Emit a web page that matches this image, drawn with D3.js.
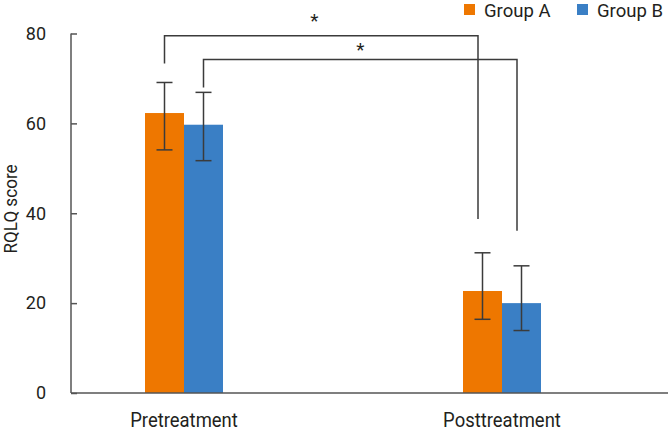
<!DOCTYPE html>
<html>
<head>
<meta charset="utf-8">
<script src="https://cdn.jsdelivr.net/npm/d3@7"></script>
<style>
  html, body { margin: 0; padding: 0; background: #fff; }
  text { font-family: Roboto, "Noto Sans", sans-serif; fill: #231f20; }
</style>
</head>
<body>
<svg id="chart" width="672" height="432"></svg>
<script>
// ---- data ----
const categories = ["Pretreatment", "Posttreatment"];
const groups = ["Group A", "Group B"];
const groupAValues = [62.3, 22.7];
const groupBValues = [59.7, 20.0];
const groupALower = [54.1, 16.4];
const groupAUpper = [69.1, 31.2];
const groupBLower = [51.7, 13.9];
const groupBUpper = [66.9, 28.3];
const yTicks = [0, 20, 40, 60, 80];
const yLabel = "RQLQ score";
// significance brackets
const bracketGroup = [0, 1];
const bracketLeftEnd = [73.3, 68.0];
const bracketTop = [79.5, 74.2];
const bracketRightEnd = [38.7, 36.1];
const bracketLabel = ["*", "*"];

const colors = ["#ee7700", "#3a7fc5"];

const svg = d3.select("#chart");
const axisX0 = 71, axisX1 = 668;

const y = d3.scaleLinear().domain([0, 80]).range([393, 33.5]);
const x = d3.scalePoint().domain(categories).range([184, 502]);
const xg = d3.scaleBand().domain(groups).range([-39, 39]).padding(0);

const series = [
  { name: groups[0], values: groupAValues, lo: groupALower, hi: groupAUpper },
  { name: groups[1], values: groupBValues, lo: groupBLower, hi: groupBUpper }
];

// bars
series.forEach((s, si) => {
  svg.append("g").selectAll("rect")
    .data(categories)
    .join("rect")
    .attr("x", (c) => x(c) + xg(s.name))
    .attr("y", (c, i) => y(s.values[i]))
    .attr("width", xg.bandwidth())
    .attr("height", (c, i) => y(0) - y(s.values[i]))
    .attr("fill", colors[si]);
});

// error bars
const lineColor = "#3b3b3b";
series.forEach((s) => {
  const g = svg.append("g").attr("stroke", lineColor).attr("stroke-width", 1.5);
  categories.forEach((c, i) => {
    const cx = x(c) + xg(s.name) + xg.bandwidth() / 2;
    g.append("line").attr("x1", cx).attr("x2", cx).attr("y1", y(s.lo[i])).attr("y2", y(s.hi[i]));
    g.append("line").attr("x1", cx - 8).attr("x2", cx + 8).attr("y1", y(s.hi[i])).attr("y2", y(s.hi[i]));
    g.append("line").attr("x1", cx - 8).attr("x2", cx + 8).attr("y1", y(s.lo[i])).attr("y2", y(s.lo[i]));
  });
});

// brackets
bracketGroup.forEach((gi, k) => {
  const gname = groups[gi];
  const lx = x(categories[0]) + xg(gname) + xg.bandwidth() / 2;
  const rx = x(categories[1]) + xg(gname) + xg.bandwidth() / 2 - 4.5;
  svg.append("path")
    .attr("d", `M${lx},${y(bracketLeftEnd[k])}V${y(bracketTop[k])}H${rx}V${y(bracketRightEnd[k])}`)
    .attr("fill", "none")
    .attr("stroke", lineColor)
    .attr("stroke-width", 1.5);
  svg.append("text")
    .attr("x", k === 0 ? (lx + rx) / 2 - 7 : (lx + rx) / 2)
    .attr("y", y(bracketTop[k]) - (k === 0 ? 9 : 4))
    .attr("text-anchor", "middle")
    .attr("font-size", 19)
    .text(bracketLabel[k]);
});

// y axis
const yAxis = d3.axisLeft(y).tickValues(yTicks).tickSize(-6).tickPadding(25);
const yg = svg.append("g").attr("transform", `translate(${axisX0},0)`).call(yAxis);
yg.select(".domain").remove();
yg.selectAll(".tick line").attr("stroke", "#555").attr("stroke-width", 1.5);
yg.selectAll(".tick text").attr("font-size", 18).attr("fill", "#231f20")
  .style("font-family", "Roboto, sans-serif");
svg.append("line").attr("x1", axisX0).attr("x2", axisX0).attr("y1", y(80)).attr("y2", y(0))
  .attr("stroke", "#555").attr("stroke-width", 1.5);

// x axis line
svg.append("line").attr("x1", axisX0).attr("x2", axisX1).attr("y1", y(0)).attr("y2", y(0))
  .attr("stroke", "#555").attr("stroke-width", 1.5);

// category labels (slightly condensed)
svg.append("g").selectAll("text")
  .data(categories)
  .join("text")
  .attr("transform", (c) => `translate(${x(c)},427) scale(0.9,1)`)
  .attr("text-anchor", "middle")
  .attr("font-size", 20.5)
  .text((c) => c);

// y label
svg.append("text")
  .attr("transform", `translate(17,209) rotate(-90) scale(0.95,1)`)
  .attr("text-anchor", "middle")
  .attr("font-size", 18)
  .text(yLabel);

// legend
const legendX = [464, 577];
const legend = svg.append("g");
groups.forEach((gname, i) => {
  legend.append("rect").attr("x", legendX[i]).attr("y", 4).attr("width", 11).attr("height", 11).attr("fill", colors[i]);
  legend.append("text").attr("x", legendX[i] + 20).attr("y", 17).attr("font-size", 18.5).text(gname);
});
</script>
</body>
</html>
